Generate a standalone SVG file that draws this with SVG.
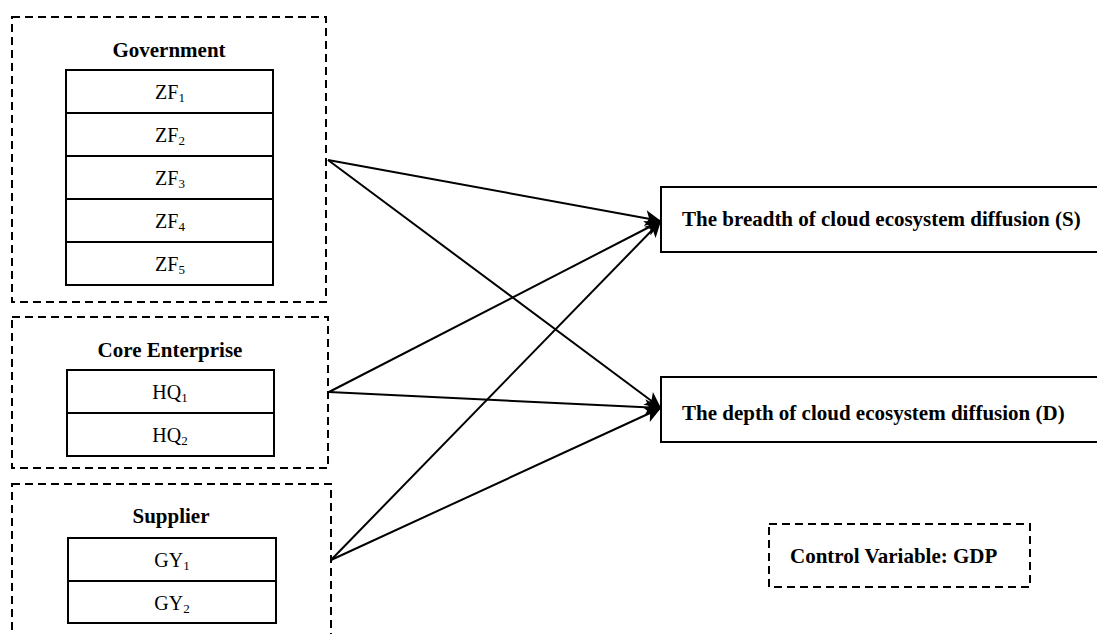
<svg xmlns="http://www.w3.org/2000/svg" width="1097" height="634" viewBox="0 0 1097 634">
<style>
.dash{fill:none;stroke:#000;stroke-width:2;stroke-dasharray:8 5}
.box{fill:#fff;stroke:#000;stroke-width:2}
.title{font-family:"Liberation Serif","Times New Roman",serif;font-weight:bold;font-size:21px;text-anchor:middle;fill:#000}
.item{font-family:"Liberation Serif","Times New Roman",serif;font-size:20px;text-anchor:middle;fill:#000}
.sub{font-size:13px}
.out{font-family:"Liberation Serif","Times New Roman",serif;font-weight:bold;font-size:21px;fill:#000}
.conn line{stroke:#000;stroke-width:2;marker-end:url(#ah)}
</style>
<defs>
<marker id="ah" viewBox="0 0 10 10" refX="10" refY="5" markerUnits="userSpaceOnUse" markerWidth="18" markerHeight="16" orient="auto">
<path d="M0,0 L10,5 L0,10 L2.5,5 z" fill="#000"/>
</marker>
</defs>
<rect width="1097" height="634" fill="#fff"/>
<g id="government">
<rect class="dash" x="12" y="17" width="314" height="285"/>
<text class="title" x="169" y="57">Government</text>
<rect class="box" x="66" y="70" width="207" height="43"/>
<rect class="box" x="66" y="113" width="207" height="43"/>
<rect class="box" x="66" y="156" width="207" height="43"/>
<rect class="box" x="66" y="199" width="207" height="43"/>
<rect class="box" x="66" y="242" width="207" height="43"/>
<text class="item" x="170" y="99">ZF<tspan class="sub" dy="3">1</tspan></text>
<text class="item" x="170" y="142">ZF<tspan class="sub" dy="3">2</tspan></text>
<text class="item" x="170" y="185">ZF<tspan class="sub" dy="3">3</tspan></text>
<text class="item" x="170" y="228">ZF<tspan class="sub" dy="3">4</tspan></text>
<text class="item" x="170" y="271">ZF<tspan class="sub" dy="3">5</tspan></text>
</g>
<g id="core-enterprise">
<rect class="dash" x="12" y="317" width="316" height="151"/>
<text class="title" x="170" y="357">Core Enterprise</text>
<rect class="box" x="67" y="370" width="207" height="43"/>
<rect class="box" x="67" y="413" width="207" height="43"/>
<text class="item" x="170" y="399">HQ<tspan class="sub" dy="3">1</tspan></text>
<text class="item" x="170" y="442">HQ<tspan class="sub" dy="3">2</tspan></text>
</g>
<g id="supplier">
<rect class="dash" x="12" y="484" width="319" height="170"/>
<text class="title" x="171" y="523">Supplier</text>
<rect class="box" x="68" y="538" width="208" height="43"/>
<rect class="box" x="68" y="581" width="208" height="42"/>
<text class="item" x="172" y="567">GY<tspan class="sub" dy="3">1</tspan></text>
<text class="item" x="172" y="610">GY<tspan class="sub" dy="3">2</tspan></text>
</g>
<g id="breadth">
<rect class="box" x="661" y="187" width="450" height="65"/>
<text class="out" x="682" y="226">The breadth of cloud ecosystem diffusion (S)</text>
</g>
<g id="depth">
<rect class="box" x="661" y="377" width="450" height="65"/>
<text class="out" x="682" y="420">The depth of cloud ecosystem diffusion (D)</text>
</g>
<g id="control">
<rect class="dash" x="769" y="524" width="261" height="63"/>
<text class="out" x="790" y="563">Control Variable: GDP</text>
</g>
<g id="connectors" class="conn">
<line x1="328" y1="160" x2="661" y2="221"/>
<line x1="328" y1="160" x2="661" y2="408"/>
<line x1="329" y1="392" x2="661" y2="221"/>
<line x1="329" y1="392" x2="661" y2="408"/>
<line x1="331" y1="560" x2="661" y2="221"/>
<line x1="331" y1="560" x2="661" y2="408"/>
</g>
</svg>
